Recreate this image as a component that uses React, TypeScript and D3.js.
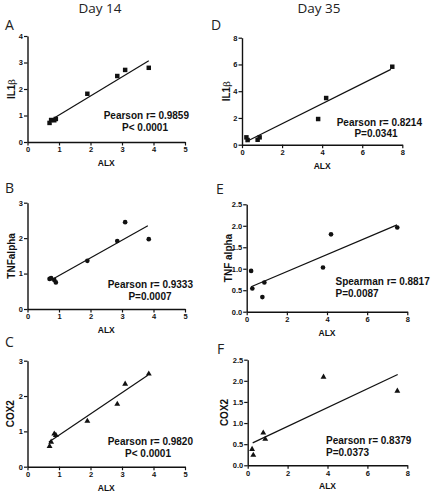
import React, { useEffect, useRef } from "react";
import * as d3 from "d3";

// ---------- data ----------
const day14X = [0.7, 0.75, 0.85, 0.9, 1.9, 2.85, 3.1, 3.85];
const il1b14 = [0.72, 0.83, 0.82, 0.87, 1.82, 2.49, 2.72, 2.8];
const tnf14 = [0.85, 0.87, 0.82, 0.75, 1.36, 1.92, 2.45, 1.97];
const cox14 = [0.58, 0.7, 0.93, 0.89, 1.29, 1.77, 2.34, 2.63];

const day35X = [0.22, 0.28, 0.78, 0.88, 3.8, 4.2, 7.5];
const il1b35 = [0.55, 0.35, 0.37, 0.55, 1.92, 3.49, 5.83];
const tnf35 = [0.95, 0.54, 0.34, 0.68, 1.03, 1.8, 1.96];
const cox35X = [0.22, 0.28, 0.78, 0.88, 3.8, 7.5];
const cox35 = [0.38, 0.24, 0.77, 0.62, 2.09, 1.76];

// fitted regression lines: [x0, y0, x1, y1]
const fitA = [0.82, 0.89, 3.85, 3.07];
const fitB = [0.75, 0.82, 3.82, 2.35];
const fitC = [0.68, 0.7, 3.82, 2.59];
const fitD = [0.2, 0.22, 7.43, 5.63];
const fitE = [0.22, 0.58, 7.49, 2.02];
const fitF = [0.25, 0.53, 7.52, 2.15];

const xTicks14 = [0, 1, 2, 3, 4, 5];
const xTicks35 = [0, 2, 4, 6, 8];
const yTicksA = [0, 1, 2, 3, 4];
const yTicksBC = [0, 1, 2, 3];
const yTicksD = [0, 2, 4, 6, 8];
const yTicksEF = [0, 0.5, 1, 1.5, 2, 2.5];

const titles = ["Day 14", "Day 35"];
const panelLetters = ["A", "B", "C", "D", "E", "F"];
const xLabel = "ALX";
const statsA = ["Pearson r= 0.9859", "P< 0.0001"];
const statsB = ["Pearson r= 0.9333", "P=0.0007"];
const statsC = ["Pearson r= 0.9820", "P< 0.0001"];
const statsD = ["Pearson r= 0.8214", "P=0.0341"];
const statsE = ["Spearman r= 0.8817", "P=0.0087"];
const statsF = ["Pearson r= 0.8379", "P=0.0373"];

// ---------- layout ----------
type PanelCfg = {
  letter: string;
  letterPos: [number, number];
  xs: number[];
  ys: number[];
  fit: number[];
  xRange: [number, number];
  yRange: [number, number];
  xDomain: [number, number];
  yDomain: [number, number];
  xTicks: number[];
  yTicks: number[];
  yFmt: string;
  yLabel: string;
  yBeta?: boolean;
  yLabelX: number;
  marker: "square" | "circle" | "triangle";
  stats: string[];
  statsPos: { x1: number; y1: number; a1: string; x2: number; y2: number; a2: string };
};

const FONT = "'Liberation Sans', Arial, sans-serif";

const panels: PanelCfg[] = [
  {
    letter: panelLetters[0], letterPos: [5, 29.5],
    xs: day14X, ys: il1b14, fit: fitA,
    xRange: [27.5, 185], yRange: [142, 36], xDomain: [0, 5], yDomain: [0, 4],
    xTicks: xTicks14, yTicks: yTicksA, yFmt: "d", yLabel: "IL1", yBeta: true, yLabelX: 15,
    marker: "square", stats: statsA,
    statsPos: { x1: 189, y1: 119, a1: "end", x2: 145, y2: 130.5, a2: "middle" },
  },
  {
    letter: panelLetters[1], letterPos: [5, 192.5],
    xs: day14X, ys: tnf14, fit: fitB,
    xRange: [27.5, 185], yRange: [309, 202.7], xDomain: [0, 5], yDomain: [0, 3],
    xTicks: xTicks14, yTicks: yTicksBC, yFmt: "d", yLabel: "TNFalpha", yLabelX: 15,
    marker: "circle", stats: statsB,
    statsPos: { x1: 193, y1: 288, a1: "end", x2: 150, y2: 299.5, a2: "middle" },
  },
  {
    letter: panelLetters[2], letterPos: [5, 346.5],
    xs: day14X, ys: cox14, fit: fitC,
    xRange: [27.5, 185], yRange: [466.7, 360.7], xDomain: [0, 5], yDomain: [0, 3],
    xTicks: xTicks14, yTicks: yTicksBC, yFmt: "d", yLabel: "COX2", yLabelX: 14,
    marker: "triangle", stats: statsC,
    statsPos: { x1: 193, y1: 445, a1: "end", x2: 148, y2: 456.5, a2: "middle" },
  },
  {
    letter: panelLetters[3], letterPos: [211, 29.5],
    xs: day35X, ys: il1b35, fit: fitD,
    xRange: [242, 402.3], yRange: [144.7, 37.7], xDomain: [0, 8], yDomain: [0, 8],
    xTicks: xTicks35, yTicks: yTicksD, yFmt: "d", yLabel: "IL1", yBeta: true, yLabelX: 229.5,
    marker: "square", stats: statsD,
    statsPos: { x1: 422, y1: 125.5, a1: "end", x2: 376, y2: 137, a2: "middle" },
  },
  {
    letter: panelLetters[4], letterPos: [216, 193.5],
    xs: day35X, ys: tnf35, fit: fitE,
    xRange: [246.7, 407.3], yRange: [311.7, 204.3], xDomain: [0, 8], yDomain: [0, 2.5],
    xTicks: xTicks35, yTicks: yTicksEF, yFmt: ".1f", yLabel: "TNF alpha", yLabelX: 231.5,
    marker: "circle", stats: statsE,
    statsPos: { x1: 335.5, y1: 284.5, a1: "start", x2: 335.5, y2: 297, a2: "start" },
  },
  {
    letter: panelLetters[5], letterPos: [217, 354],
    xs: cox35X, ys: cox35, fit: fitF,
    xRange: [247.7, 407.3], yRange: [465.3, 359.7], xDomain: [0, 8], yDomain: [0, 2.5],
    xTicks: xTicks35, yTicks: yTicksEF, yFmt: ".1f", yLabel: "COX2", yLabelX: 228,
    marker: "triangle", stats: statsF,
    statsPos: { x1: 326, y1: 444, a1: "start", x2: 326, y2: 455.5, a2: "start" },
  },
];

function Panel({ cfg }: { cfg: PanelCfg }) {
  const xRef = useRef<SVGGElement>(null);
  const yRef = useRef<SVGGElement>(null);
  const x = d3.scaleLinear().domain(cfg.xDomain).range(cfg.xRange);
  const y = d3.scaleLinear().domain(cfg.yDomain).range(cfg.yRange);

  useEffect(() => {
    const style = (g: d3.Selection<SVGGElement, unknown, null, undefined>) => {
      g.select(".domain").attr("stroke", "#111").attr("stroke-width", 1.4);
      g.selectAll(".tick line").attr("stroke", "#111").attr("stroke-width", 1.2);
      g.selectAll(".tick text")
        .attr("fill", "#111")
        .attr("font-family", FONT)
        .attr("font-weight", "bold")
        .attr("font-size", 7.5);
    };
    if (xRef.current) {
      const g = d3.select(xRef.current);
      g.selectAll("*").remove();
      g.call(
        d3.axisBottom(x).tickValues(cfg.xTicks).tickFormat(d3.format("d")).tickSize(3.5).tickSizeOuter(0).tickPadding(1.5)
      );
      style(g);
    }
    if (yRef.current) {
      const g = d3.select(yRef.current);
      g.selectAll("*").remove();
      g.call(
        d3.axisLeft(y).tickValues(cfg.yTicks).tickFormat(d3.format(cfg.yFmt)).tickSize(3.5).tickSizeOuter(0).tickPadding(1)
      );
      style(g);
    }
  });

  const xMid = (cfg.xRange[0] + cfg.xRange[1]) / 2;
  const yMid = (cfg.yRange[0] + cfg.yRange[1]) / 2;
  const line = d3.line<[number, number]>().x((d) => x(d[0])).y((d) => y(d[1]));
  const fitPts: [number, number][] = [
    [cfg.fit[0], cfg.fit[1]],
    [cfg.fit[2], cfg.fit[3]],
  ];
  const sym =
    cfg.marker === "square"
      ? d3.symbol(d3.symbolSquare, 20)
      : cfg.marker === "circle"
      ? d3.symbol(d3.symbolCircle, 17)
      : d3.symbol(d3.symbolTriangle, 15);

  return (
    <g>
      <text x={cfg.letterPos[0]} y={cfg.letterPos[1]} fontFamily="'Open Sans', sans-serif" fontSize={14} fill="#222">
        {cfg.letter}
      </text>
      <path d={line(fitPts) || ""} stroke="#111" strokeWidth={1.2} fill="none" />
      {cfg.xs.map((xv, i) => (
        <path key={i} d={sym() || ""} transform={`translate(${x(xv)},${y(cfg.ys[i])})`} fill="#111" />
      ))}
      <g ref={xRef} transform={`translate(0,${cfg.yRange[0]})`} />
      <g ref={yRef} transform={`translate(${cfg.xRange[0]},0)`} />
      <text x={xMid} y={cfg.yRange[0] + 24} textAnchor="middle" fontFamily={FONT} fontWeight="bold" fontSize={8.5} fill="#111">
        {xLabel}
      </text>
      <text
        transform={`translate(${cfg.yLabelX},${yMid}) rotate(-90)`}
        textAnchor="middle"
        fontFamily={FONT}
        fontWeight="bold"
        fontSize={10}
        fill="#111"
      >
        {cfg.yLabel}
        {cfg.yBeta ? (
          <tspan fontFamily="'DejaVu Serif', serif" fontWeight="normal" fontSize={10}>
            β
          </tspan>
        ) : null}
      </text>
      <text x={cfg.statsPos.x1} y={cfg.statsPos.y1} textAnchor={cfg.statsPos.a1 as any} fontFamily={FONT} fontWeight="bold" fontSize={10} fill="#111">
        {cfg.stats[0]}
      </text>
      <text x={cfg.statsPos.x2} y={cfg.statsPos.y2} textAnchor={cfg.statsPos.a2 as any} fontFamily={FONT} fontWeight="bold" fontSize={10} fill="#111">
        {cfg.stats[1]}
      </text>
    </g>
  );
}

export default function App() {
  return (
    <svg
      width={433}
      height={493}
      style={{ position: "absolute", left: 0, top: 0, background: "#fff" }}
    >
      <rect width={433} height={493} fill="#fff" />
      <text x={100} y={12.5} textAnchor="middle" fontFamily="'Open Sans', sans-serif" fontSize={13.5} fill="#222">
        {titles[0]}
      </text>
      <text x={319} y={12.5} textAnchor="middle" fontFamily="'Open Sans', sans-serif" fontSize={13.5} fill="#222">
        {titles[1]}
      </text>
      {panels.map((p, i) => (
        <Panel key={i} cfg={p} />
      ))}
    </svg>
  );
}
